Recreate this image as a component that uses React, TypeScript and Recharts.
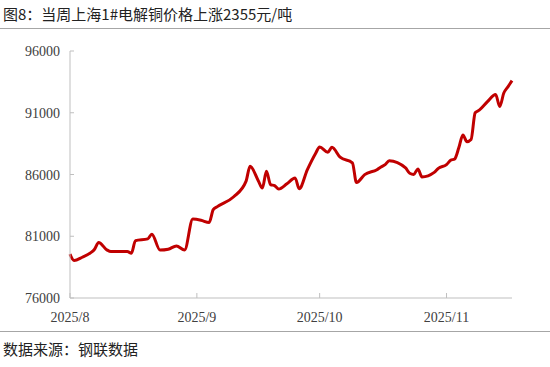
import React from 'react';
import { LineChart, Line, XAxis, YAxis } from 'recharts';

// days since 2025-08-01
const days = [0, 1, 3, 5, 6, 7, 9, 10, 13, 14, 15, 16, 19, 20, 22, 24, 26, 28, 30, 32, 34, 35, 36, 40, 43, 44, 46, 47, 48, 49, 50, 51, 53, 55, 56, 58, 60, 61, 63, 64, 66, 69, 70, 72, 75, 76, 77, 78, 82, 83, 84, 85, 86, 89, 90, 92, 93, 94, 95, 96, 97, 98, 99, 100, 102, 104, 105, 106, 107, 108];
const prices = [79550, 79030, 79300, 79650, 79950, 80500, 79900, 79760, 79760, 79760, 79630, 80650, 80790, 81170, 79880, 79950, 80220, 79880, 82390, 82300, 82110, 83150, 83400, 84200, 85440, 86660, 85500, 84900, 86260, 85180, 85100, 84830, 85250, 85720, 84850, 86390, 87700, 88230, 87800, 88200, 87400, 86950, 85350, 85990, 86390, 86610, 86800, 87120, 86530, 86100, 86010, 86450, 85800, 86170, 86500, 86800, 87150, 87260, 88160, 89200, 88650, 88830, 91000, 91210, 91900, 92480, 91500, 92600, 93100, 93600];

const xTicks = [0, 31, 61, 92];
const xTickLabels = ['2025/8', '2025/9', '2025/10', '2025/11'];
const yTicks = [76000, 81000, 86000, 91000, 96000];

const title = '图8：当周上海1#电解铜价格上涨2355元/吨';
const source = '数据来源：钢联数据';

const data = days.map((d, i) => ({ day: d, price: prices[i] }));

const AXIS = '#bfbfbf';
const TEXT = '#404040';

const XTick = (props: any) => {
  const { x, y, payload } = props;
  const idx = xTicks.indexOf(payload.value);
  return (
    <g>
      <line x1={x} x2={x} y1={298} y2={293} stroke={AXIS} strokeWidth={1} />
      <text x={x} y={322} textAnchor="middle" fontFamily="'Liberation Serif', 'Times New Roman', serif" fontSize={14} fill={TEXT}>
        {idx >= 0 ? xTickLabels[idx] : ''}
      </text>
    </g>
  );
};

const YTick = (props: any) => {
  const { y, payload } = props;
  return (
    <g>
      <line x1={70} x2={74} y1={y} y2={y} stroke={AXIS} strokeWidth={1} />
      <text x={60} y={y + 5} textAnchor="end" fontFamily="'Liberation Serif', 'Times New Roman', serif" fontSize={14} fill={TEXT}>
        {payload.value}
      </text>
    </g>
  );
};

export default function App() {
  return (
    <div style={{ position: 'absolute', left: 0, top: 0, width: 550, height: 367, background: '#fff', overflow: 'hidden' }}>
      <div style={{ position: 'absolute', left: 3, top: 4, fontFamily: "'Noto Sans CJK SC', sans-serif", fontSize: 15, color: '#222', whiteSpace: 'nowrap', lineHeight: '20px' }}>
        {title}
      </div>
      <div style={{ position: 'absolute', left: 0, top: 28, width: 550, height: 1, background: '#a6a6a6' }} />
      <div style={{ position: 'absolute', left: 0, top: 0 }}>
        <LineChart width={550} height={367} data={data} margin={{ top: 51, right: 38, bottom: 0, left: 0 }}>
          <XAxis
            dataKey="day"
            type="number"
            domain={[0, 108]}
            ticks={xTicks}
            interval={0}
            tick={<XTick />}
            tickLine={false}
            axisLine={{ stroke: AXIS, strokeWidth: 1 }}
            height={69}
          />
          <YAxis
            type="number"
            domain={[76000, 96000]}
            ticks={yTicks}
            interval={0}
            tick={<YTick />}
            tickLine={false}
            axisLine={{ stroke: AXIS, strokeWidth: 1 }}
            width={70}
          />
          <Line type="monotone" dataKey="price" stroke="#c00000" strokeWidth={3} dot={false} isAnimationActive={false} />
        </LineChart>
      </div>
      <div style={{ position: 'absolute', left: 0, top: 331, width: 550, height: 1, background: '#a6a6a6' }} />
      <div style={{ position: 'absolute', left: 3, top: 339, fontFamily: "'Noto Sans CJK SC', sans-serif", fontSize: 15, color: '#222', whiteSpace: 'nowrap', lineHeight: '20px' }}>
        {source}
      </div>
    </div>
  );
}
